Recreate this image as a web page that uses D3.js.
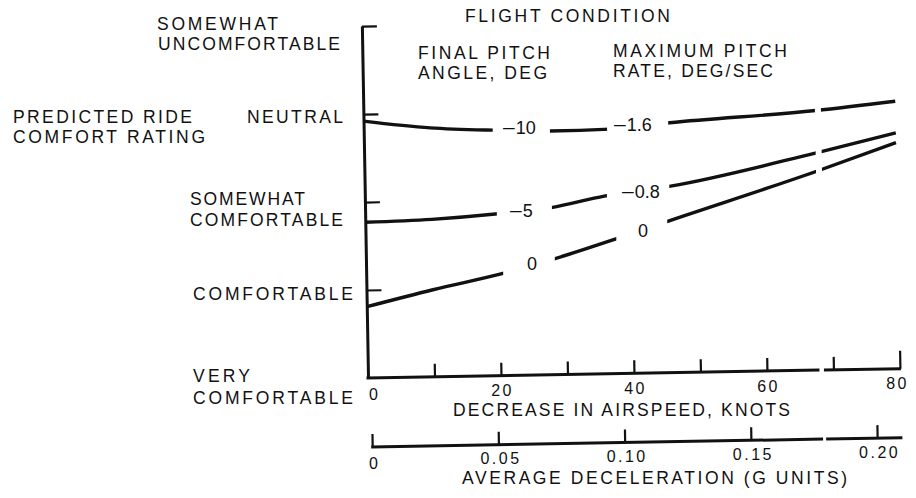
<!DOCTYPE html>
<html><head><meta charset="utf-8">
<script src="https://cdn.jsdelivr.net/npm/d3@7"></script>
<style>
body{margin:0;background:#fff}
svg{display:block;background:#fff}
text{font-family:"Liberation Sans",Arial,Helvetica,sans-serif;fill:#111}
</style>
</head><body>
<svg id="c" width="916" height="498"></svg>
<script>
// ---------- data ----------
const ratingLevels = [["VERY","COMFORTABLE"],["COMFORTABLE"],["SOMEWHAT","COMFORTABLE"],["NEUTRAL"],["SOMEWHAT","UNCOMFORTABLE"]];
const knotsTicks = [10,20,30,40,50,60,70,80];
const knotsTickLabels = [0,20,40,60,80];
const decelTicks = [0,0.05,0.10,0.15,0.20];
const decelTickLabels = ["0","0.05","0.10","0.15","0.20"];
const knotsBreak = [67.9,68.8];
const decelBreak = [0.1786,0.1802];
const decelEnd = 0.21;

const pitchAngleLabels = ["10","5","0"];      // final pitch angle, deg (sign shown separately)
const pitchAngleSigns = ["\u2013","\u2013",""];
const pitchRateLabels = ["1.6","0.8","0"];    // max pitch rate, deg/sec
const pitchRateSigns = ["\u2013","\u2013",""];

const knotsA = [0,10,20,28,37,46,68,80];
const ratingA = [2.92,2.83,2.79,2.77,2.78,2.84,2.95,3.04];   // -10 deg / -1.6 deg/s
const knotsB = [0,10,20,28,36,46,68,80];
const ratingB = [1.77,1.79,1.84,1.90,2.02,2.12,2.47,2.68];   // -5 deg / -0.8 deg/s
const knotsC = [0,10,21,28,38,45,68,80];
const ratingC = [0.81,0.99,1.17,1.31,1.54,1.71,2.26,2.57];   // 0 deg / 0 deg/s
const gapsA = [[19.4,28],[36.6,45.8]];
const gapsB = [[19.8,28.1],[36.4,45.8]];
const gapsC = [[20.6,28.4],[37.7,45.4]];

// ---------- layout ----------
const svg = d3.select("#c");
const x = d3.scaleLinear().domain([0,80]).range([368,900]);
const y = d3.scaleLinear().domain([0,4]).range([378,26]);
const xd = d3.scaleLinear().domain([0,0.2]).range([371,876]);
const decelY = 447;
const ox = x(0), oy = y(0);
const ang = Math.PI/180; // 1 degree scan tilt of the original figure
function rot(X,Y){const dx=X-ox,dy=Y-oy;return [ox+dx*Math.cos(ang)+dy*Math.sin(ang), oy-dx*Math.sin(ang)+dy*Math.cos(ang)];}

const g = svg.append("g").attr("transform",`rotate(-1,${ox},${oy})`);
const tg = svg.append("g"); // texts, kept level

function label(t,L,B,w,size){
  tg.append("text").attr("x",L).attr("y",B).attr("font-size",size||17.5)
   .attr("textLength",w).attr("lengthAdjust","spacing").text(t);
}

// ---------- axes ----------
const yAxis = d3.axisRight(y).tickValues([1,2,3,4]).tickSizeInner(15).tickSizeOuter(0).tickFormat("");
const ya = g.append("g").attr("transform",`translate(${ox},0)`).call(yAxis);
ya.select(".domain").attr("stroke","#111").attr("stroke-width",3);
ya.selectAll(".tick line").attr("stroke","#111").attr("stroke-width",2.2);

const xAxis = d3.axisBottom(x).tickValues(knotsTicks).tickSizeInner(-13).tickSizeOuter(0).tickFormat("");
const xa = g.append("g").attr("transform",`translate(0,${oy})`).call(xAxis);
xa.select(".domain").remove();
xa.selectAll(".tick line").attr("stroke","#111").attr("stroke-width",2.2)
  .attr("y2",d=>d===80?-18:-13);
[[0,knotsBreak[0]],[knotsBreak[1],80]].forEach(s=>{
  g.append("line").attr("x1",x(s[0])-1.5).attr("x2",x(s[1])+(s[1]===80?1:0)).attr("y1",oy).attr("y2",oy)
   .attr("stroke","#111").attr("stroke-width",3);
});
tg.selectAll(".klab").data(knotsTickLabels).join("text").attr("class","klab")
  .each(function(d){
    const p = rot(x(d)+(d===0?5:d===80?-4:0)+1.25, oy+(d===0?22.5:20.5));
    d3.select(this).attr("x",p[0]).attr("y",p[1]);
  })
  .attr("text-anchor","middle").attr("font-size",16).attr("letter-spacing","2.5px").text(d=>d);

const dAxis = d3.axisBottom(xd).tickValues(decelTicks).tickSizeInner(-13).tickSizeOuter(0).tickFormat("");
const da = g.append("g").attr("transform",`translate(0,${decelY})`).call(dAxis);
da.select(".domain").remove();
da.selectAll(".tick line").attr("stroke","#111").attr("stroke-width",2.2);
[[0,decelBreak[0]],[decelBreak[1],decelEnd]].forEach(s=>{
  g.append("line").attr("x1",xd(s[0])-1).attr("x2",xd(s[1])).attr("y1",decelY).attr("y2",decelY)
   .attr("stroke","#111").attr("stroke-width",3);
});
tg.selectAll(".dlab").data(decelTicks).join("text").attr("class","dlab")
  .each(function(d){
    const p = rot(xd(d)+2.2, decelY+(d===0?22:19.5));
    d3.select(this).attr("x",p[0]).attr("y",p[1]);
  })
  .attr("text-anchor","middle").attr("font-size",16).attr("letter-spacing","2.5px").text((d,i)=>decelTickLabels[i]);

// ---------- curves ----------
const line = d3.line().x(d=>x(d[0])).y(d=>y(d[1])).curve(d3.curveMonotoneX);
const defs = svg.append("defs");
const series = [[knotsA,ratingA,gapsA],[knotsB,ratingB,gapsB],[knotsC,ratingC,gapsC]];
series.forEach((s,i)=>{
  const gaps = s[2].concat([knotsBreak]).sort((a,b)=>a[0]-b[0]);
  let vis=[], start=-1;
  gaps.forEach(gp=>{vis.push([start,gp[0]]); start=gp[1];});
  vis.push([start,81]);
  const cp = defs.append("clipPath").attr("id","cp"+i);
  vis.forEach(v=>cp.append("rect").attr("x",x(v[0])).attr("width",x(v[1])-x(v[0])).attr("y",0).attr("height",498));
  g.append("path").datum(s[0].map((k,j)=>[k,s[1][j]])).attr("d",line)
   .attr("fill","none").attr("stroke","#111").attr("stroke-width",3.4)
   .attr("clip-path",`url(#cp${i})`);
});

// ---------- texts ----------
const levelPos = [[[193,382,57],[193,404,160]],[[193,300,160]],[[190,205,115],[190,226,153]],[[247,123,96]],[[157,30,121],[158,50,182]]];
ratingLevels.forEach((lines,i)=>lines.forEach((t,j)=>{const p=levelPos[i][j];label(t,p[0],p[1],p[2]);}));

label("PREDICTED RIDE",13,123,179);
label("COMFORT RATING",13,143,192);
label("FLIGHT CONDITION",465,22,205);
label("FINAL PITCH",418,59,132);
label("ANGLE, DEG",418,79,129);
label("MAXIMUM PITCH",613,57,174);
label("RATE, DEG/SEC",613,77,160);
label("DECREASE IN AIRSPEED, KNOTS",453,416,337);
label("AVERAGE DECELERATION (G UNITS)",462,484,385);

function curveLabel(sign,num,L,B){
  const t = tg.append("text").attr("x",L).attr("y",B).attr("font-size",18);
  if(sign) t.append("tspan").attr("font-size",21).text(sign);
  t.append("tspan").attr("dx",sign?1:0).text(num);
}
const angPos = [[503,134],[510,217],[527,270]];
const ratePos = [[614,131],[622,198],[638,237]];
pitchAngleLabels.forEach((t,i)=>curveLabel(pitchAngleSigns[i],t,angPos[i][0],angPos[i][1]));
pitchRateLabels.forEach((t,i)=>curveLabel(pitchRateSigns[i],t,ratePos[i][0],ratePos[i][1]));
</script>
</body></html>
